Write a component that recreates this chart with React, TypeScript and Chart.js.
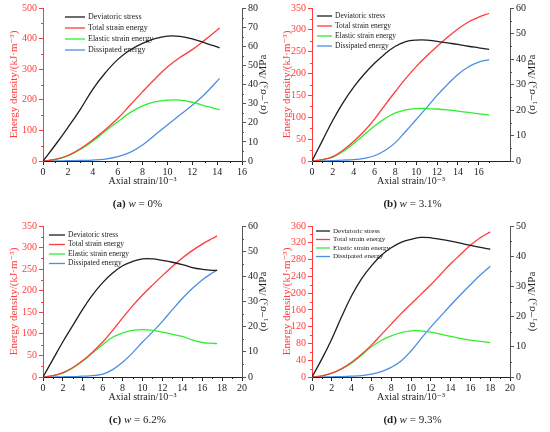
import React, { useEffect, useRef } from 'react'
import Chart from 'chart.js/auto'

const labels = ['Deviatoric stress', 'Total strain energy', 'Elastic strain energy', 'Dissipated energy']
const colours = ['#1e1e1e', '#ff3b3b', '#2fee2f', '#4a8ee6']
const red = '#ff3b3b'
const serif = "'Liberation Serif', 'DejaVu Serif', 'Times New Roman', serif"

// (a) w = 0%
const strainA = [0, 1, 2, 3, 4, 5, 6, 7, 8, 9, 10, 11, 12, 13, 14.2]
const stressA = [0, 8.5, 17.5, 27, 37.5, 46, 53, 58, 61.5, 64, 65.3, 65.2, 63.8, 61.8, 59.2]
const totalA = [0, 5, 18, 40, 69, 102, 139, 182, 226, 268, 307, 338, 364, 395, 435]
const elasticA = [0, 5, 17, 38, 65, 97, 128, 158, 180, 193, 199, 199, 192, 180, 168]
const dissipA = [0, 0.5, 1, 2, 3, 6, 14, 28, 52, 85, 118, 150, 182, 218, 270]

// (b) w = 3.1%
const strainB = [0, 1, 2, 3, 4, 5, 6, 7, 8, 9, 10, 11, 12, 13, 14, 15, 16, 17]
const stressB = [0, 8, 16, 23, 29, 34, 38.3, 42, 45, 46.8, 47.4, 47.4, 46.9, 46.3, 45.7, 45, 44.4, 43.8]
const totalB = [0, 3, 10, 25, 45, 68, 96, 128, 159, 189, 216, 240, 262, 283, 302, 318, 329, 338]
const elasticB = [0, 3, 9, 22, 40, 60, 80, 97, 110, 117, 120, 120, 119, 117, 114, 111, 108, 105]
const dissipB = [0, 0.3, 1, 2, 3, 6, 12, 24, 42, 68, 95, 122, 150, 175, 198, 215, 226, 232]

// (c) w = 6.2%
const strainC = [0, 1, 2, 3, 4, 5, 6, 7, 8, 9, 10, 11, 12, 13, 14, 15, 16, 17, 17.5]
const stressC = [0, 7, 14, 20.5, 27, 32.7, 37.5, 41.3, 44.2, 45.9, 46.9, 46.9, 46.3, 45.6, 44.7, 43.5, 42.8, 42.4, 42.4]
const totalC = [0, 3, 10, 22, 38, 58, 81, 108, 137, 165, 190, 213, 235, 256, 276, 293, 308, 321, 327]
const elasticC = [0, 3, 9, 21, 37, 56, 75, 92, 102, 108, 110, 108, 104, 99, 94, 86, 80, 78, 77.5]
const dissipC = [0, 0.2, 0.5, 1, 2, 3, 6.5, 17, 34, 56, 81, 104, 129, 156, 182, 205, 225, 241, 248]

// (d) w = 9.3%
const strainD = [0, 1, 2, 3, 4, 5, 6, 7, 8, 9, 10, 11, 12, 13, 14, 15, 16, 17, 18]
const stressD = [0, 6, 12.6, 20, 26.9, 32.5, 36.8, 40.3, 42.8, 44.6, 45.6, 46.2, 46.1, 45.6, 45, 44.3, 43.6, 42.9, 42.3]
const totalD = [0, 2.5, 9, 20, 35, 54, 76, 101, 126, 151, 174, 197, 220, 245, 270, 292, 314, 332, 346]
const elasticD = [0, 2.5, 9, 19, 33, 52, 72, 87, 98, 106, 110, 110, 107, 102, 97, 92, 88, 85, 82]
const dissipD = [0, 0.2, 0.5, 1, 2, 3.5, 7, 13, 23, 38, 62, 91, 119, 145, 171, 196, 220, 243, 264]

type LegendSpec = { dx: number, dy: number, gap: number, len: number, size: number }

type PanelSpec = {
    letter: string
    w: string
    strain: number[]
    series: number[][]
    xMax: number
    yMax: number
    yStep: number
    y2Max: number
    left: number
    right: number
    padTop: number
    leftTitlePad: number
    rightTitleDx: number
    legend: LegendSpec
}

const panels: PanelSpec[] = [
    {
        letter: '(a)', w: '0%', strain: strainA, series: [stressA, totalA, elasticA, dissipA],
        xMax: 16, yMax: 500, yStep: 100, y2Max: 80, left: 43, right: 33, padTop: 8,
        leftTitlePad: 8, rightTitleDx: 21, legend: { dx: 22, dy: 9, gap: 11, len: 20, size: 8 },
    },
    {
        letter: '(b)', w: '3.1%', strain: strainB, series: [stressB, totalB, elasticB, dissipB],
        xMax: 19, yMax: 350, yStep: 50, y2Max: 60, left: 37, right: 40, padTop: 8,
        leftTitlePad: 6, rightTitleDx: 22, legend: { dx: 5, dy: 8, gap: 10, len: 15, size: 7.5 },
    },
    {
        letter: '(c)', w: '6.2%', strain: strainC, series: [stressC, totalC, elasticC, dissipC],
        xMax: 20, yMax: 350, yStep: 50, y2Max: 60, left: 43, right: 33, padTop: 10,
        leftTitlePad: 8, rightTitleDx: 21, legend: { dx: 6, dy: 9, gap: 9.5, len: 16, size: 7.5 },
    },
    {
        letter: '(d)', w: '9.3%', strain: strainD, series: [stressD, totalD, elasticD, dissipD],
        xMax: 20, yMax: 360, yStep: 40, y2Max: 50, left: 37, right: 40, padTop: 10,
        leftTitlePad: 6, rightTitleDx: 22, legend: { dx: 4, dy: 5, gap: 8.5, len: 14, size: 7 },
    },
]

// minor ticks, right axis title (reads bottom to top) and the legend inside the plot
const extras = (p: PanelSpec) => ({
    id: 'extras',
    afterDraw(chart: any) {
        const { ctx, chartArea: a, scales } = chart
        ctx.save()
        ctx.lineWidth = 1

        const minor = (scale: any, step: number, max: number, colour: string, side: string) => {
            ctx.strokeStyle = colour
            ctx.beginPath()
            for (let v = step / 2; v < max; v += step) {
                const px = Math.round(scale.getPixelForValue(v)) + 0.5
                if (side === 'x') { ctx.moveTo(px, a.bottom); ctx.lineTo(px, a.bottom + 2) }
                if (side === 'l') { ctx.moveTo(a.left, px); ctx.lineTo(a.left - 2, px) }
                if (side === 'r') { ctx.moveTo(a.right, px); ctx.lineTo(a.right + 2, px) }
            }
            ctx.stroke()
        }
        minor(scales.x, 2, p.xMax, '#222', 'x')
        minor(scales.y, p.yStep, p.yMax, red, 'l')
        minor(scales.y2, 10, p.y2Max, '#555', 'r')

        ctx.save()
        ctx.translate(a.right + p.rightTitleDx, (a.top + a.bottom) / 2)
        ctx.rotate(-Math.PI / 2)
        ctx.fillStyle = '#222'
        ctx.font = `11px ${serif}`
        ctx.textAlign = 'center'
        ctx.textBaseline = 'middle'
        ctx.fillText('(σ₁−σ₃) /MPa', 0, 0)
        ctx.restore()

        const lg = p.legend
        ctx.font = `${lg.size}px ${serif}`
        ctx.textBaseline = 'middle'
        ctx.textAlign = 'left'
        labels.forEach((text, i) => {
            const y = a.top + lg.dy + i * lg.gap
            const x0 = a.left + lg.dx
            ctx.strokeStyle = colours[i]
            ctx.lineWidth = 1.3
            ctx.beginPath()
            ctx.moveTo(x0, y)
            ctx.lineTo(x0 + lg.len, y)
            ctx.stroke()
            ctx.fillStyle = '#222'
            ctx.fillText(text, x0 + lg.len + 3, y)
        })
        ctx.restore()
    },
})

const Panel = ({ p }: { p: PanelSpec }) => {
    const canvasRef = useRef<HTMLCanvasElement>(null)

    useEffect(() => {
        if (canvasRef.current == null) return
        const tickFont = { family: serif, size: 10 }
        const myChart = new Chart(canvasRef.current, {
            type: 'line',
            data: {
                datasets: p.series.map((vals, i) => ({
                    label: labels[i],
                    data: p.strain.map((x, j) => ({ x, y: vals[j] })),
                    borderColor: colours[i],
                    backgroundColor: colours[i],
                    borderWidth: 1.3,
                    pointRadius: 0,
                    tension: 0.4,
                    yAxisID: i === 0 ? 'y2' : 'y',
                })),
            },
            options: {
                responsive: false,
                animation: false,
                layout: { padding: { top: p.padTop, left: 0, right: 0, bottom: 0 } },
                plugins: {
                    legend: { display: false },
                    tooltip: { enabled: false },
                },
                scales: {
                    x: {
                        type: 'linear',
                        min: 0,
                        max: p.xMax,
                        afterBuildTicks: (s: any) => { s.ticks = s.ticks.filter((t: any) => t.value % 2 === 0) },
                        ticks: { stepSize: 2, color: '#222', font: tickFont, padding: 1, maxRotation: 0 },
                        grid: { drawOnChartArea: false, tickLength: 4, color: '#222' },
                        border: { color: '#222', width: 1 },
                        title: {
                            display: true, text: 'Axial strain/10⁻³', color: '#222',
                            font: { family: serif, size: 10 }, padding: { top: 0, bottom: 3 },
                        },
                        afterFit: (s: any) => { s.height = 29 },
                    },
                    y: {
                        position: 'left',
                        min: 0,
                        max: p.yMax,
                        ticks: { stepSize: p.yStep, color: red, font: tickFont, padding: 2 },
                        grid: { drawOnChartArea: false, tickLength: 4, color: red },
                        border: { color: red, width: 1 },
                        title: {
                            display: true, text: 'Energy density/(kJ·m⁻³)', color: red,
                            font: { family: serif, size: 11 }, padding: { top: p.leftTitlePad, bottom: 0 },
                        },
                        afterFit: (s: any) => { s.width = p.left },
                    },
                    y2: {
                        position: 'right',
                        min: 0,
                        max: p.y2Max,
                        ticks: { stepSize: 10, color: '#222', font: tickFont, padding: 2 },
                        grid: { drawOnChartArea: false, tickLength: 4, color: '#555' },
                        border: { color: '#555', width: 1 },
                        afterFit: (s: any) => { s.width = p.right },
                    },
                },
            },
            plugins: [extras(p)],
        } as any)

        return () => {
            myChart.destroy()
        }
    }, [p])

    return (
        <div style={{ width: 275, height: 216 }}>
            <canvas ref={canvasRef} width={275} height={190} style={{ display: 'block' }}></canvas>
            <div style={{
                height: 26, lineHeight: '26px', textAlign: 'center', fontFamily: serif,
                fontSize: 11, color: '#222',
            }}>
                <b>{p.letter}</b> <i>w</i> = {p.w}
            </div>
        </div>
    )
}

const App = () => {
    useEffect(() => {
        document.body.style.margin = '0'
    }, [])

    return (
        <div style={{ width: 550, height: 432, display: 'flex', flexWrap: 'wrap', background: '#fff' }}>
            {panels.map(p => <Panel key={p.letter} p={p} />)}
        </div>
    )
}

export default App
